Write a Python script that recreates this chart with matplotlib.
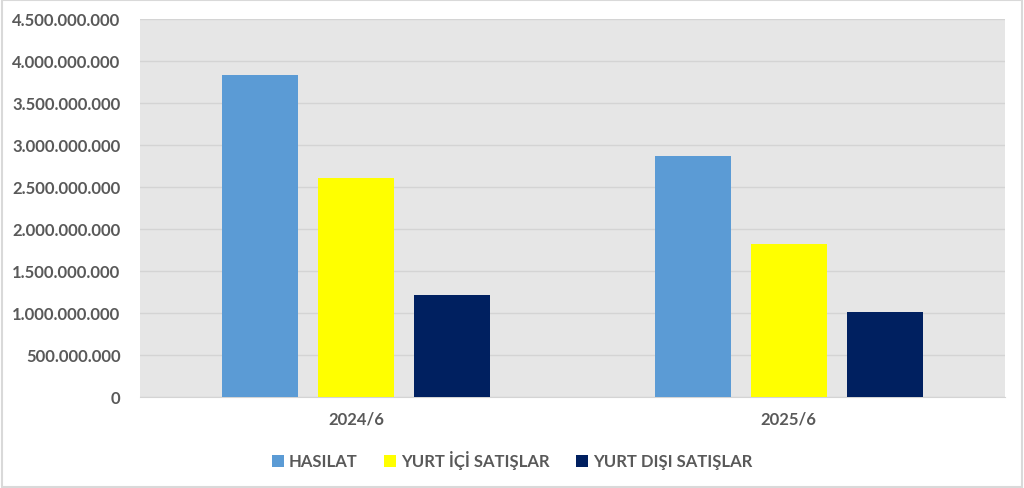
import matplotlib.pyplot as plt
from matplotlib.patches import Rectangle
from matplotlib.ticker import FuncFormatter
import numpy as np

categories = ['2024/6', '2025/6']
series_names = ['HASILAT', 'YURT İÇİ SATIŞLAR', 'YURT DIŞI SATIŞLAR']
hasilat = [3833000000, 2869000000]
yurt_ici = [2607000000, 1821000000]
yurt_disi = [1214000000, 1012000000]
yticks = np.arange(0, 4500000001, 500000000)

colors = ['#5b9bd5', '#ffff00', '#002060']
text_color = '#595959'

plt.rcParams['font.family'] = ['Lato', 'DejaVu Sans']

fig = plt.figure(figsize=(10.24, 4.89), dpi=100)
ax = fig.add_axes([140 / 1024, 1 - 398 / 489, 865 / 1024, 378 / 489])
ax.set_facecolor('#e6e6e6')

x = np.arange(len(categories))
width = 0.176
step = 0.222
for i, (vals, name) in enumerate(zip([hasilat, yurt_ici, yurt_disi], series_names)):
    ax.bar(x + (i - 1) * step, vals, width, color=colors[i], label=name, zorder=3)

ax.set_xlim(-0.5, 1.5)
ax.set_ylim(0, 4500000000)
ax.set_yticks(yticks)
ax.yaxis.set_major_formatter(FuncFormatter(lambda v, p: f'{int(v):,}'.replace(',', '.')))
ax.set_xticks(x)
ax.set_xticklabels(categories)
ax.grid(axis='y', color='#d4d4d4', linewidth=1, zorder=0)
ax.tick_params(length=0, colors=text_color, labelsize=12)
ax.tick_params(axis='x', pad=10)
ax.tick_params(axis='y', pad=14)
for lbl in ax.get_xticklabels() + ax.get_yticklabels():
    lbl.set_fontweight('bold')
for s in ['top', 'right', 'left']:
    ax.spines[s].set_visible(False)
ax.spines['bottom'].set_color('#d4d4d4')

leg = fig.legend(loc='center', bbox_to_anchor=(0.5, 1 - 461 / 489), ncol=3, frameon=False,
                 handlelength=0.7, handleheight=0.7, handletextpad=0.3, columnspacing=1.6,
                 prop={'weight': 'bold', 'size': 12})
for t in leg.get_texts():
    t.set_color(text_color)

fig.patches.append(Rectangle((0.002, 0.003), 0.996, 0.994, transform=fig.transFigure,
                             fill=False, edgecolor='#d9d9d9', linewidth=1.5))

fig.savefig('out.png', dpi=100, facecolor='white')
